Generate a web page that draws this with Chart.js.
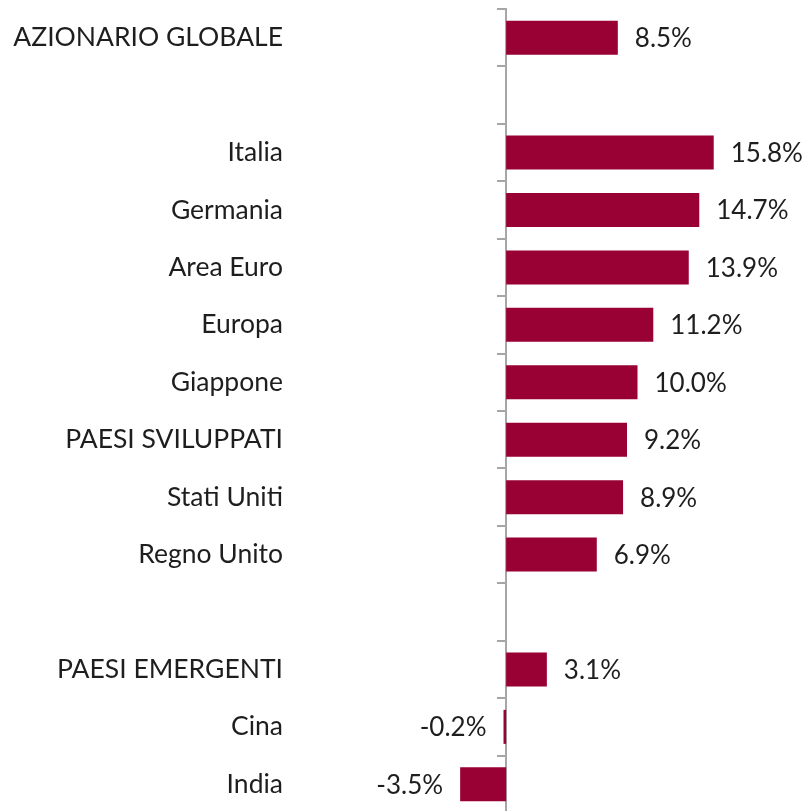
<!DOCTYPE html>
<html>
<head>
<meta charset="utf-8">
<script src="https://cdn.jsdelivr.net/npm/chart.js@4/dist/chart.umd.min.js"></script>
<style>
  html, body { margin: 0; padding: 0; background: #ffffff; overflow: hidden; }
  #wrap { width: 807px; height: 813px; }
</style>
</head>
<body>
<div id="wrap"><canvas id="c" width="807" height="813"></canvas></div>
<script>
const categories = [
  'AZIONARIO GLOBALE', '', 'Italia', 'Germania', 'Area Euro', 'Europa', 'Giappone',
  'PAESI SVILUPPATI', 'Stati Uniti', 'Regno Unito', '', 'PAESI EMERGENTI', 'Cina', 'India'
];
const values = [8.5, null, 15.8, 14.7, 13.9, 11.2, 10.0, 9.2, 8.9, 6.9, null, 3.1, -0.2, -3.5];
const valueLabels = ['8.5%', '', '15.8%', '14.7%', '13.9%', '11.2%', '10.0%', '9.2%', '8.9%', '6.9%', '', '3.1%', '-0.2%', '-3.5%'];

const FONT = 'Lato, "Noto Sans", sans-serif';
const TEXT = '#1e1e1e';
const AXIS = '#a6a6a6';

const valueLabelPlugin = {
  id: 'valueLabels',
  afterDatasetsDraw(chart) {
    const ctx = chart.ctx;
    const meta = chart.getDatasetMeta(0);
    ctx.save();
    ctx.font = '26px ' + FONT;
    ctx.fillStyle = TEXT;
    ctx.textBaseline = 'middle';
    meta.data.forEach((bar, i) => {
      const v = values[i];
      if (v === null || v === undefined) return;
      const { x, y, base } = bar.getProps(['x', 'y', 'base'], true);
      if (v >= 0) {
        ctx.textAlign = 'left';
        ctx.fillText(valueLabels[i], Math.max(x, base) + 17, y + 1);
      } else {
        ctx.textAlign = 'right';
        ctx.fillText(valueLabels[i], Math.min(x, base) - 17, y + 1);
      }
    });
    ctx.restore();
  }
};

new Chart(document.getElementById('c'), {
  type: 'bar',
  data: {
    labels: categories,
    datasets: [{
      data: values,
      backgroundColor: '#990033',
      borderWidth: 0,
      barPercentage: 0.592,
      categoryPercentage: 1.0
    }]
  },
  options: {
    indexAxis: 'y',
    responsive: false,
    animation: false,
    layout: { padding: { top: 9, bottom: 0, left: 0, right: 0 } },
    plugins: { legend: { display: false }, tooltip: { enabled: false } },
    scales: {
      x: {
        type: 'linear',
        display: false,
        min: -16.45,
        max: 22.9
      },
      y: {
        type: 'category',
        position: 'left',
        offset: true,
        grid: { display: false, drawTicks: false },
        border: { display: false },
        ticks: {
          padding: 7,
          color: TEXT,
          font: { family: FONT, size: 26.5 },
          autoSkip: false
        },
        afterFit(scale) {
          scale.width = 290;
          scale.paddingTop = 0;
          scale.paddingBottom = 0;
        }
      },
      yz: {
        type: 'category',
        axis: 'y',
        position: { x: 0 },
        offset: true,
        grid: {
          display: true,
          offset: true,
          drawOnChartArea: false,
          drawTicks: true,
          tickLength: 8,
          color: AXIS,
          lineWidth: 2
        },
        border: { display: true, color: AXIS, width: 2 },
        ticks: { display: false }
      }
    }
  },
  plugins: [valueLabelPlugin]
});
</script>
</body>
</html>
